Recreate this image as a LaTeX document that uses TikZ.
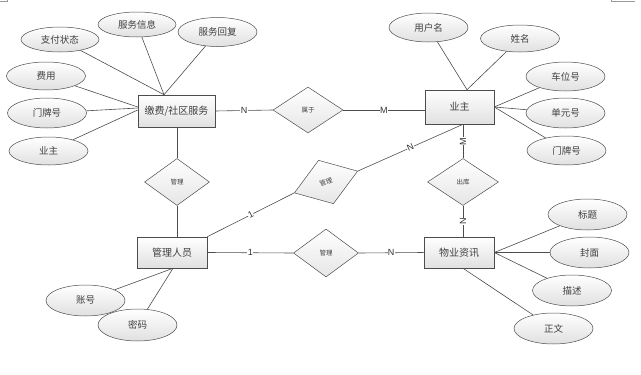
\documentclass[tikz,border=0pt]{standalone}
\usepackage{fontspec}
\newfontfamily\cjk{Noto Sans CJK SC}
\newfontfamily\labfont{Liberation Sans}
\usetikzlibrary{shapes.geometric,shadows}
\begin{document}
\begin{tikzpicture}[x=1pt,y=-1pt,
  every node/.style={text=black!75},
  ent/.style={rectangle, draw=black!70, line width=0.6pt, inner sep=0pt,
    top color=white, bottom color=black!12,
    drop shadow={shadow xshift=1.2pt, shadow yshift=-1.2pt, fill=black!35},
    font=\cjk\fontsize{10}{12}\selectfont},
  attr/.style={ellipse, draw=black!70, line width=0.5pt, inner sep=0pt,
    minimum width=79pt, minimum height=28pt,
    top color=white, bottom color=black!12,
    font=\cjk\fontsize{9.5}{11}\selectfont},
  rel/.style={diamond, draw=black!70, line width=0.5pt, inner sep=0pt,
    top color=white, bottom color=black!10,
    font=\cjk\fontsize{6.5}{8}\selectfont},
  conn/.style={draw=black!70, line width=0.6pt},
  card/.style={font=\labfont\fontsize{9}{10}\selectfont, fill=white, inner sep=0.3pt, text=black!80},
  cornermark/.style={draw=black!40, line width=0.5pt}
]
\useasboundingbox (0,0) rectangle (641,375);

% page corner marks
\coordinate (m1) at (0,1.5);
\coordinate (m2) at (7,1.5);
\coordinate (m3) at (7,0);
\draw[cornermark] (m1) -- (m2) -- (m3);
\coordinate (m4) at (611,0);
\coordinate (m5) at (611,1.5);
\coordinate (m6) at (635,1.5);
\draw[cornermark] (m4) -- (m5) -- (m6);

% entities
\node[ent, minimum width=77pt, minimum height=32pt] (jf) at (176.5,111) {缴费/社区服务};
\node[ent, minimum width=69pt, minimum height=34pt] (yz) at (459.5,107) {业主};
\node[ent, minimum width=70pt, minimum height=31pt] (gl) at (172,252.5) {管理人员};
\node[ent, minimum width=70pt, minimum height=31pt] (wy) at (459,252.5) {物业资讯};

% relationships
\node[rel, minimum width=70pt, minimum height=46pt] (sy) at (308,110) {属于};
\node[rel, minimum width=71pt, minimum height=47pt] (ck) at (463,182) {出库};
\node[rel, minimum width=65pt, minimum height=47pt] (gla) at (177,182) {管理};
\node[rel, minimum width=65pt, minimum height=48pt] (glb) at (326,253) {管理};
\node[rel, minimum width=67pt, minimum height=46pt, rotate=19] (glc) at (326,182) {管理};

% attributes of 缴费/社区服务
\node[attr, minimum width=78pt, minimum height=25pt] (a1) at (60,39.5) {支付状态};
\node[attr, minimum width=78pt, minimum height=25pt] (a2) at (137,24.5) {服务信息};
\node[attr, minimum height=29pt] (a3) at (217.5,32) {服务回复};
\node[attr] (a4) at (46,76) {费用};
\node[attr, minimum height=30pt] (a5) at (47,113) {门牌号};
\node[attr] (a6) at (48.5,151) {业主};

% attributes of 业主
\node[attr, minimum height=29pt] (b1) at (428.5,27.5) {用户名};
\node[attr, minimum height=27pt] (b2) at (520,38.5) {姓名};
\node[attr, minimum height=29pt] (b3) at (565.5,76.5) {车位号};
\node[attr, minimum height=30pt] (b4) at (565.5,113) {单元号};
\node[attr, minimum height=29pt] (b5) at (566.5,150.5) {门牌号};

% attributes of 管理人员
\node[attr, minimum height=31pt] (c1) at (85.5,300.5) {账号};
\node[attr, minimum height=32pt] (c2) at (137.5,325) {密码};

% attributes of 物业资讯
\node[attr, minimum height=31pt] (d1) at (587.5,214.5) {标题};
\node[attr, minimum height=31pt] (d2) at (589.5,252.5) {封面};
\node[attr, minimum height=31pt] (d3) at (572,290.5) {描述};
\node[attr, minimum height=31pt] (d4) at (553.5,328.5) {正文};

% connectors: attributes
\draw[conn] (a1) -- ([xshift=-12.5pt]jf.north);
\draw[conn] (a2) -- ([xshift=-12.5pt]jf.north);
\draw[conn] (a3) -- ([xshift=-12.5pt]jf.north);
\draw[conn] (a4) -- ([yshift=4pt]jf.west);
\draw[conn] (a5) -- ([yshift=3pt]jf.west);
\draw[conn] (a6) -- ([yshift=1pt]jf.west);

\draw[conn] (b1) -- ([xshift=7.5pt]yz.north);
\draw[conn] (b2) -- ([xshift=7.5pt]yz.north);
\draw[conn] (b3) -- (yz.east);
\draw[conn] (b4) -- (yz.east);
\draw[conn] (b5) -- (yz.east);

\draw[conn] (c1) -- ([xshift=1pt]gl.south);
\draw[conn] (c2) -- ([xshift=1pt]gl.south);

\draw[conn] (d1) -- (wy.east);
\draw[conn] (d2) -- (wy.east);
\draw[conn] (d3) -- (wy.east);
\draw[conn] (d4) -- ([xshift=4pt]wy.south);

% connectors: relationships
\draw[conn] (jf.east) -- node[card] {N} (sy.west);
\draw[conn] (sy.east) -- node[card] {M} (yz.west |- sy.east);
\draw[conn] ([xshift=0.5pt]jf.south) -- (gla.north);
\draw[conn] (gla.south) -- ([xshift=5pt]gl.north);
\draw[conn] ([xshift=3.5pt]yz.south) -- node[card, rotate=90] {M} (ck.north);
\draw[conn] (ck.south) -- node[card, rotate=90] {N} ([xshift=4pt]wy.north);
\draw[conn] (gl.east) -- node[card] {1} (glb.west);
\draw[conn] (glb.east) -- node[card] {N} (wy.west);
\draw[conn] (gl.north east) -- node[card, sloped] {1} (glc.west);
\draw[conn] (glc.east) -- node[card, sloped] {N} ([xshift=3.5pt]yz.south);
\end{tikzpicture}
\end{document}
